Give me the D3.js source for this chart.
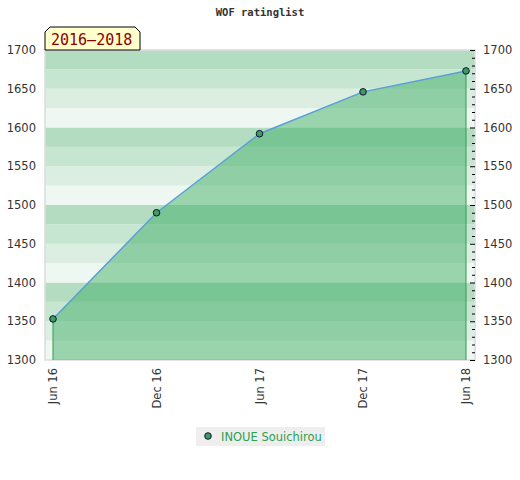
<!DOCTYPE html>
<html>
<head>
<meta charset="utf-8">
<script src="https://cdn.jsdelivr.net/npm/d3@7"></script>
<style>
  body { margin: 0; background: #fff; }
  text { font-family: "DejaVu Sans", sans-serif; }
</style>
</head>
<body>
<svg id="chart" width="520" height="480"></svg>
<script>
// data
var dates = ["2016-06-01", "2016-12-01", "2017-06-01", "2017-12-01", "2018-06-01"];
var ratings = [1353, 1490, 1592, 1646, 1673];
var xTickLabels = ["Jun 16", "Dec 16", "Jun 17", "Dec 17", "Jun 18"];
var yTicks = [1300, 1350, 1400, 1450, 1500, 1550, 1600, 1650, 1700];
var playerName = "INOUE Souichirou";
var periodLabel = "2016\u20132018";
var title = "WOF ratinglist";

var svg = d3.select("#chart"),
  margin = { top: 50, right: 45, bottom: 120, left: 45 },
  width = +svg.attr("width"),
  height = +svg.attr("height"),
  plotW = width - margin.left - margin.right,
  plotH = height - margin.top - margin.bottom;

var parseDate = d3.timeParse("%Y-%m-%d");
var data = dates.map((d, i) => ({ date: parseDate(d), rating: ratings[i] }));

var x = d3.scaleTime()
  .domain(d3.extent(data, (d) => d.date))
  .range([margin.left + 8, margin.left + plotW - 9]);

var y = d3.scaleLinear()
  .domain([1300, 1700])
  .range([margin.top + plotH, margin.top]);

// striped background, 4 stripes per 100 points
var stripeColors = ["#b3dcc1", "#c7e6d1", "#dceee2", "#eef7f1"];
var stripes = d3.range(1300, 1700, 25);
svg.append("g")
  .selectAll("rect")
  .data(stripes)
  .join("rect")
  .attr("x", margin.left)
  .attr("width", plotW)
  .attr("y", (d) => y(d + 25))
  .attr("height", (d) => y(d) - y(d + 25))
  .attr("fill", (d) => stripeColors[3 - ((d - 1300) / 25) % 4]);

svg.append("rect")
  .attr("x", margin.left)
  .attr("y", margin.top)
  .attr("width", plotW)
  .attr("height", plotH)
  .attr("fill", "none")
  .attr("stroke", "#dcdcdc")
  .attr("stroke-width", 1.5);

// area
var area = d3.area()
  .x((d) => x(d.date))
  .y0(y(1300))
  .y1((d) => y(d.rating));

svg.append("path")
  .datum(data)
  .attr("d", area)
  .attr("fill", "rgb(52,168,92)")
  .attr("fill-opacity", 0.45);

// side edges of the area
var ends = [data[0], data[data.length - 1]];
svg.append("g")
  .selectAll("line")
  .data(ends)
  .join("line")
  .attr("x1", (d) => x(d.date))
  .attr("x2", (d) => x(d.date))
  .attr("y1", (d) => y(d.rating))
  .attr("y2", y(1300))
  .attr("stroke", "#2e9e4f")
  .attr("stroke-width", 1);

var line = d3.line()
  .x((d) => x(d.date))
  .y((d) => y(d.rating));

svg.append("path")
  .datum(data)
  .attr("d", line)
  .attr("fill", "none")
  .attr("stroke", "#5a9fd8")
  .attr("stroke-width", 1.5);

svg.append("g")
  .selectAll("circle")
  .data(data)
  .join("circle")
  .attr("cx", (d) => x(d.date))
  .attr("cy", (d) => y(d.rating))
  .attr("r", 3.3)
  .attr("fill", "#3a9f5c")
  .attr("stroke", "#113")
  .attr("stroke-width", 1);

// left axis labels
svg.append("g")
  .selectAll("text")
  .data(yTicks)
  .join("text")
  .attr("x", margin.left - 9)
  .attr("y", (d) => y(d))
  .attr("dy", "0.35em")
  .attr("text-anchor", "end")
  .attr("font-size", 11.5)
  .attr("fill", "#333")
  .text((d) => d);

// right axis: minor ticks inside the plot edge
var right = margin.left + plotW;
svg.append("g")
  .selectAll("line")
  .data(d3.range(1300, 1701, 10))
  .join("line")
  .attr("x1", right)
  .attr("x2", (d) => right - (d % 50 === 0 ? 5 : 3))
  .attr("y1", (d) => y(d) + 0.5)
  .attr("y2", (d) => y(d) + 0.5)
  .attr("stroke", "#000")
  .attr("stroke-width", 1);

svg.append("g")
  .selectAll("text")
  .data(yTicks)
  .join("text")
  .attr("x", right + 8)
  .attr("y", (d) => y(d))
  .attr("dy", "0.35em")
  .attr("font-size", 11.5)
  .attr("fill", "#333")
  .text((d) => d);

// x labels, rotated
svg.append("g")
  .selectAll("text")
  .data(data)
  .join("text")
  .attr("transform", (d) => "translate(" + (x(d.date) + 4) + "," + (margin.top + plotH + 8) + ") rotate(-90)")
  .attr("text-anchor", "end")
  .attr("font-size", 11.5)
  .attr("fill", "#333")
  .text((d, i) => xTickLabels[i]);

// title
svg.append("text")
  .attr("x", width / 2)
  .attr("y", 16)
  .attr("text-anchor", "middle")
  .attr("font-weight", "bold")
  .attr("font-size", 10.5)
  .attr("fill", "#333")
  .style("font-family", "'DejaVu Sans Mono', monospace")
  .text(title);

// period tag
var tx = margin.left, ty = 27, tw = 95, th = 23, c = 5;
svg.append("path")
  .attr("d", "M" + tx + "," + (ty + th) + "V" + (ty + c) + "L" + (tx + c) + "," + ty +
    "H" + (tx + tw - c) + "L" + (tx + tw) + "," + (ty + c) + "V" + (ty + th) + "Z")
  .attr("fill", "#ffffcc")
  .attr("stroke", "#000")
  .attr("stroke-width", 1);

svg.append("text")
  .attr("x", tx + 6)
  .attr("y", ty + 18)
  .attr("font-size", 15)
  .attr("fill", "#8b0000")
  .style("font-family", "'DejaVu Sans Mono', monospace")
  .text(periodLabel);

// legend
var legend = svg.append("g").attr("transform", "translate(196,427)");
legend.append("rect")
  .attr("width", 129)
  .attr("height", 19)
  .attr("fill", "#eeeeee");
legend.append("circle")
  .attr("cx", 12)
  .attr("cy", 9)
  .attr("r", 3.3)
  .attr("fill", "#3a9f5c")
  .attr("stroke", "#113");
legend.append("text")
  .attr("x", 25)
  .attr("y", 13.5)
  .attr("font-size", 11.5)
  .attr("fill", "#2e9e4f")
  .text(playerName);
</script>
</body>
</html>
